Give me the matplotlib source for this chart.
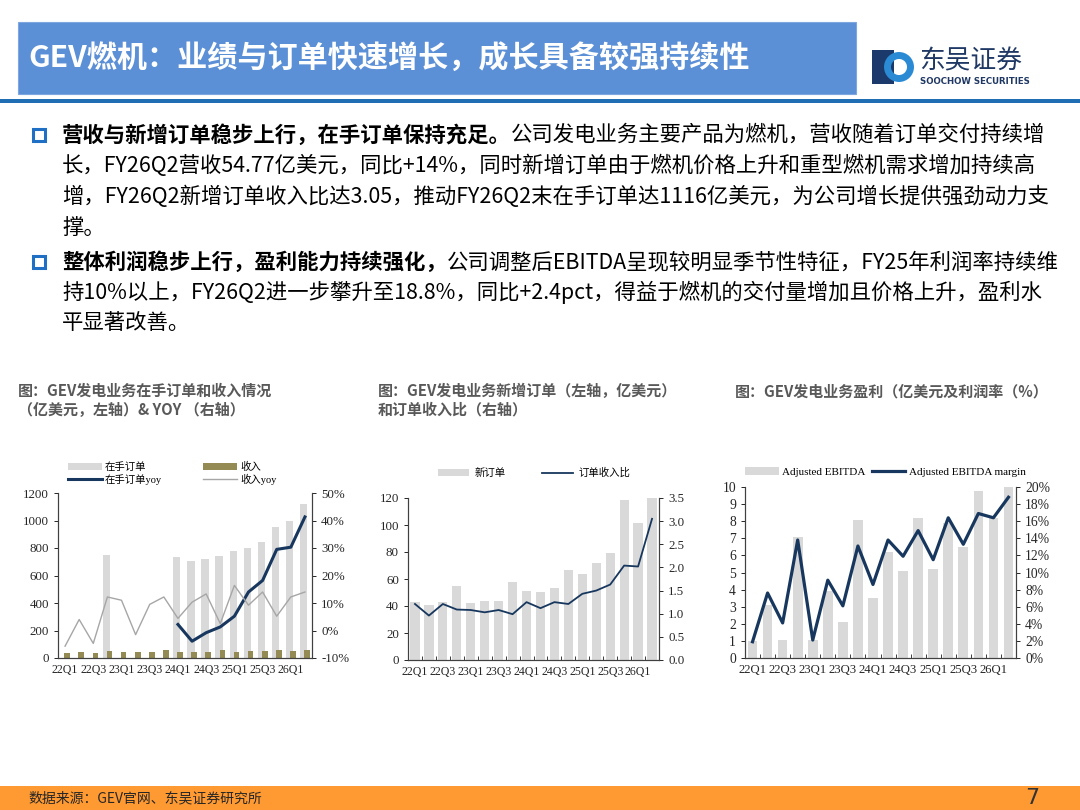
import numpy as np
import matplotlib
matplotlib.use("Agg")
import matplotlib.pyplot as plt
from matplotlib.patches import Rectangle, Circle
from matplotlib.ticker import PercentFormatter, FormatStrFormatter, FixedLocator

plt.rcParams['font.family'] = ['Noto Sans CJK SC', 'DejaVu Sans']
plt.rcParams['axes.unicode_minus'] = False

# 数据
quarters = ['22Q1', '22Q2', '22Q3', '22Q4', '23Q1', '23Q2', '23Q3', '23Q4', '24Q1',
            '24Q2', '24Q3', '24Q4', '25Q1', '25Q2', '25Q3', '25Q4', '26Q1', '26Q2']

# 图1：在手订单、收入（亿美元）及yoy（%）
backlog = [np.nan, np.nan, np.nan, 750, np.nan, np.nan, np.nan, np.nan, 735,
           705, 720, 740, 775, 800, 845, 950, 1000, 1120]
revenue = [36, 46, 37, 52, 43, 46, 44, 60, 41, 45, 45, 55, 47, 48, 51, 61, 51, 55]
backlog_yoy = [np.nan] * 8 + [2.2, -3.9, -0.8, 1.3, 5.2, 14.0, 18.2, 29.5, 30.3, 41.3]
revenue_yoy = [-5.7, 4.0, -4.7, 12.2, 11.0, -1.5, 9.5, 12.2, 4.4, 10.3, 13.3, 2.5,
               16.4, 9.2, 14.0, 5.2, 12.2, 14.0]

# 图2：新增订单（亿美元）与订单收入比
new_orders = [43, 41, 43, 55, 42, 44, 44, 58, 51, 50.4, 53.3, 66.7, 63.5, 71.9,
              79.3, 118.3, 101.2, 120]
book_to_bill = [1.21, 0.96, 1.21, 1.09, 1.08, 1.03, 1.08, 0.99, 1.25, 1.12, 1.25,
                1.21, 1.43, 1.50, 1.63, 2.04, 2.02, 3.05]

# 图3：调整后EBITDA（亿美元）与利润率（%）
ebitda = [1.0, 3.1, 1.05, 7.06, 1.05, 3.9, 2.1, 8.08, 3.52, 6.18, 5.09, 8.16,
          5.19, 7.9, 6.5, 9.78, 8.2, 10.0]
margin = [1.9, 7.6, 4.1, 13.8, 2.1, 9.1, 6.1, 13.1, 8.6, 13.8, 11.9, 14.9,
          11.5, 16.4, 13.3, 16.9, 16.4, 18.8]

NAVY = '#17375E'
LGRAY = '#D9D9D9'
OLIVE = '#948A54'
SERIF = ['Liberation Serif', 'Noto Sans CJK SC']
ZH = ['Noto Sans CJK SC', 'DejaVu Sans']
BODY = 15.4

W, H = 1080, 810
fig = plt.figure(figsize=(10.8, 8.1), dpi=100)

bg = fig.add_axes([0, 0, 1, 1])
bg.set_xlim(0, W)
bg.set_ylim(H, 0)
bg.axis('off')

# 标题栏
bg.add_patch(Rectangle((18, 22), 838, 72, facecolor='#5B8FD6', edgecolor='#7FA7DF', lw=0.8))
bg.text(28, 58, 'GEV燃机：业绩与订单快速增长，成长具备较强持续性', color='white',
        fontsize=21.7, weight='bold', va='center', ha='left', family=ZH)
bg.add_patch(Rectangle((0, 98.5), W, 4, facecolor='#1F6DB3', edgecolor='none'))

# logo
bg.add_patch(Rectangle((872, 50), 22, 34, facecolor='#1B3A6B', edgecolor='none'))
bg.add_patch(Circle((899, 67), 11.5, facecolor='none', edgecolor='#2A8AD4', lw=5))
bg.text(919, 61, '东吴证券', color='#1F3864', fontsize=18.5, va='center', ha='left', family=ZH)
bg.text(920, 81, 'SOOCHOW SECURITIES', color='#1F3864', fontsize=6.2, weight='bold',
        va='center', ha='left', family='DejaVu Sans')

# 正文
def bullet(y):
    bg.add_patch(Rectangle((33, y - 6), 12, 12, facecolor='none', edgecolor='#1F6FC5', lw=2.2))

def para_line(y, bold, regular):
    t = bg.text(62, y, bold, fontsize=BODY, weight='bold', va='center', ha='left', family=ZH)
    bg.annotate(regular, xy=(1, 0.5), xycoords=t, va='center', ha='left', fontsize=BODY, family=ZH)

bullet(135)
para_line(135, '营收与新增订单稳步上行，在手订单保持充足。', '公司发电业务主要产品为燃机，营收随着订单交付持续增')
bg.text(62, 166, '长，FY26Q2营收54.77亿美元，同比+14%，同时新增订单由于燃机价格上升和重型燃机需求增加持续高',
        fontsize=BODY, va='center', ha='left', family=ZH)
bg.text(62, 197, '增，FY26Q2新增订单收入比达3.05，推动FY26Q2末在手订单达1116亿美元，为公司增长提供强劲动力支',
        fontsize=BODY, va='center', ha='left', family=ZH)
bg.text(62, 228, '撑。', fontsize=BODY, va='center', ha='left', family=ZH)
bullet(262)
para_line(262, '整体利润稳步上行，盈利能力持续强化，', '公司调整后EBITDA呈现较明显季节性特征，FY25年利润率持续维')
bg.text(62, 292, '持10%以上，FY26Q2进一步攀升至18.8%，同比+2.4pct，得益于燃机的交付量增加且价格上升，盈利水',
        fontsize=BODY, va='center', ha='left', family=ZH)
bg.text(62, 323, '平显著改善。', fontsize=BODY, va='center', ha='left', family=ZH)

# 图标题
ct = dict(fontsize=10.8, color='#595959', weight='bold', va='center', ha='left', family=ZH)
bg.text(18, 391, '图：GEV发电业务在手订单和收入情况', **ct)
bg.text(18, 410, '（亿美元，左轴）& YOY （右轴）', **ct)
bg.text(378, 391, '图：GEV发电业务新增订单（左轴，亿美元）', **ct)
bg.text(378, 410, '和订单收入比（右轴）', **ct)
bg.text(735, 391, '图：GEV发电业务盈利（亿美元及利润率（%）', **ct)

# 页脚
bg.add_patch(Rectangle((0, 786), W, 24, facecolor='#FF9A33', edgecolor='none'))
bg.text(28, 798, '数据来源：GEV官网、东吴证券研究所', fontsize=10, color='#262626',
        va='center', ha='left', family=ZH)
bg.text(1032, 798, '7', fontsize=16, color='#333333', va='center', ha='center', family='Liberation Sans Narrow')


def make_axes(left, top, right, bottom):
    return fig.add_axes([left / W, 1 - bottom / H, (right - left) / W, (bottom - top) / H])


def style(ax, axr, fs, xfs):
    for a in (ax, axr):
        a.spines['top'].set_visible(False)
        for s in ('left', 'right', 'bottom'):
            a.spines[s].set_color('#404040')
            a.spines[s].set_linewidth(0.8)
        a.tick_params(axis='y', labelsize=fs, colors='#262626', length=3, width=0.7)
        for lab in a.get_yticklabels():
            lab.set_family('Liberation Serif')
    ax.tick_params(axis='x', which='major', length=0, labelsize=xfs, colors='#262626', pad=4)
    for lab in ax.get_xticklabels():
        lab.set_family('Liberation Serif')


x = np.arange(len(quarters))

# 图1
ax1 = make_axes(58, 493, 312, 658)
ax1r = ax1.twinx()
b1 = ax1.bar(x - 0.08, backlog, width=0.52, color=LGRAY, label='在手订单', zorder=1)
b2 = ax1.bar(x + 0.15, revenue, width=0.4, color=OLIVE, label='收入', zorder=2)
l1, = ax1r.plot(x, backlog_yoy, color=NAVY, lw=2.2, label='在手订单yoy')
l2, = ax1r.plot(x, revenue_yoy, color='#A6A6A6', lw=1.0, label='收入yoy')
ax1.set_xlim(-0.5, len(quarters) - 0.5)
ax1.set_ylim(0, 1200)
ax1.set_yticks(range(0, 1201, 200))
ax1r.set_ylim(-10, 50)
ax1r.set_yticks(range(-10, 51, 10))
ax1r.yaxis.set_major_formatter(PercentFormatter(decimals=0))
ax1.set_xticks(x[::2])
ax1.set_xticklabels(quarters[::2])
style(ax1, ax1r, 9.3, 8.6)
ax1.legend([b1, l1, b2, l2], ['在手订单', '在手订单yoy', '收入', '收入yoy'], ncol=2,
           loc='upper left', bbox_to_anchor=(64, 458), bbox_transform=bg.transData,
           frameon=False, prop={'family': SERIF, 'size': 7.5}, handlelength=3.2,
           handletextpad=0.3, columnspacing=4.0, labelspacing=0.15, borderaxespad=0)

# 图2
ax2 = make_axes(408, 498, 659, 660)
ax2r = ax2.twinx()
b3 = ax2.bar(x, new_orders, width=0.66, color=LGRAY, label='新订单')
l3, = ax2r.plot(x, book_to_bill, color=NAVY, lw=1.3, label='订单收入比')
ax2.set_xlim(-0.5, len(quarters) - 0.5)
ax2.set_ylim(0, 120)
ax2.set_yticks(range(0, 121, 20))
ax2r.set_ylim(0, 3.5)
ax2r.set_yticks(np.arange(0, 3.51, 0.5))
ax2r.yaxis.set_major_formatter(FormatStrFormatter('%.1f'))
ax2.set_xticks(x[::2])
ax2.set_xticklabels(quarters[::2])
ax2.xaxis.set_minor_locator(FixedLocator(np.arange(-0.5, len(quarters), 1.0)))
ax2.tick_params(axis='x', which='minor', direction='in', length=3, width=0.7, color='#404040')
style(ax2, ax2r, 9.3, 8.6)
ax2.legend([b3, l3], ['新订单', '订单收入比'], ncol=2, loc='center left',
           bbox_to_anchor=(434, 473), bbox_transform=bg.transData, frameon=False,
           prop={'family': SERIF, 'size': 7.5}, handlelength=3.0, handletextpad=0.5,
           columnspacing=3.5, borderaxespad=0)

# 图3
ax3 = make_axes(745, 487, 1016, 658)
ax3r = ax3.twinx()
b4 = ax3.bar(x, ebitda, width=0.64, color=LGRAY, label='Adjusted EBITDA')
l4, = ax3r.plot(x, margin, color=NAVY, lw=2.3, label='Adjusted EBITDA margin')
ax3.set_xlim(-0.5, len(quarters) - 0.5)
ax3.set_ylim(0, 10)
ax3.set_yticks(range(0, 11))
ax3r.set_ylim(0, 20)
ax3r.set_yticks(range(0, 21, 2))
ax3r.yaxis.set_major_formatter(PercentFormatter(decimals=0))
ax3.set_xticks(x[::2])
ax3.set_xticklabels(quarters[::2])
ax3.xaxis.set_minor_locator(FixedLocator(np.arange(-0.5, len(quarters), 1.0)))
ax3.tick_params(axis='x', which='minor', direction='in', length=3, width=0.7, color='#404040')
style(ax3, ax3r, 9.8, 9.2)
ax3.legend([b4, l4], ['Adjusted EBITDA', 'Adjusted EBITDA margin'], ncol=2, loc='center left',
           bbox_to_anchor=(741, 472), bbox_transform=bg.transData, frameon=False,
           prop={'family': SERIF, 'size': 8}, handlelength=3.0, handletextpad=0.3,
           columnspacing=0.6, borderaxespad=0)

fig.savefig('out.png', dpi=100)
